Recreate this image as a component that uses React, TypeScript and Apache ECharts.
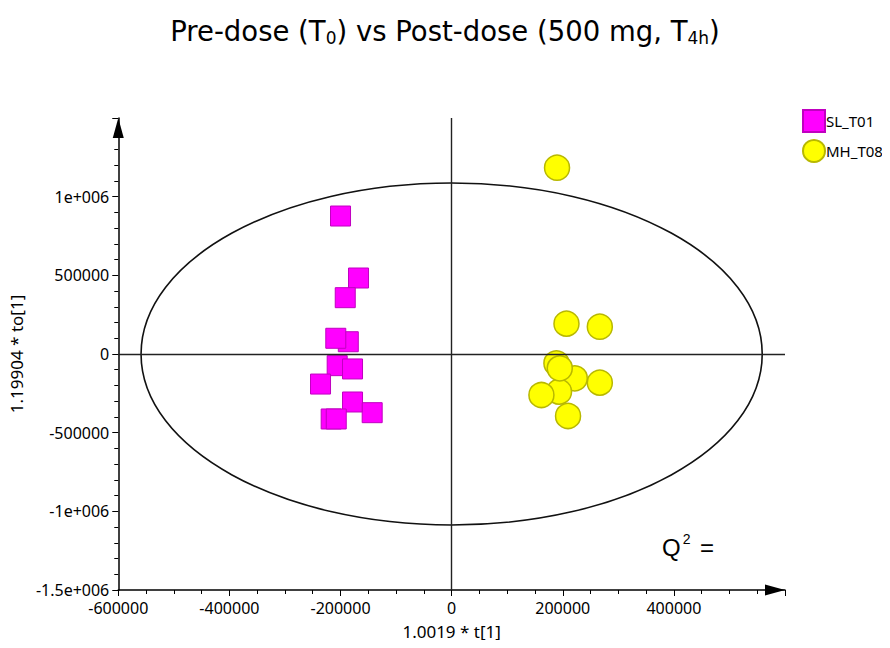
import React, { useEffect, useRef } from "react";
import * as echarts from "echarts";

const titleText = "Pre-dose (T{sub|0}) vs Post-dose (500 mg, T{sub|4h})";
const xAxisName = "1.0019 * t[1]";
const yAxisName = "1.19904 * to[1]";
const seriesNames = ["SL_T01", "MH_T08"];

const slX = [-200000, -167600, -191500, -186000, -208500, -206000, -178400, -236000, -178400, -143000, -216800, -207700];
const slY = [877000, 483000, 358000, 78000, 100000, -74000, -95000, -191000, -305000, -373000, -413000, -413000];

const mhX = [189700, 206700, 266700, 221600, 266700, 193300, 161600, 209500, 188600, 194600];
const mhY = [1184000, 192600, 173500, -154400, -182400, -239600, -260600, -394000, -59100, -90900];

// Hotelling T2 ellipse semi-axes (data units)
const ellipseA = 559000;
const ellipseB = 1087000;

const xMin = -600000;
const xMax = 600000;
const yMin = -1500000;
const yMax = 1500000;

const FONT = "Noto Sans";

function yFmt(v: number): string {
  if (v === 0) return "0";
  if (Math.abs(v) >= 1000000) return `${v / 1000000}e+006`;
  return String(v);
}

function xFmt(v: number): string {
  return String(v);
}

export default function App() {
  const ref = useRef<HTMLDivElement>(null);
  useEffect(() => {
    if (!ref.current) return;
    const chart = echarts.init(ref.current, undefined, { renderer: "svg" });
    const sl = slX.map((x, i) => [x, slY[i]]);
    const mh = mhX.map((x, i) => [x, mhY[i]]);
    chart.setOption({
      animation: false,
      backgroundColor: "#ffffff",
      title: {
        text: titleText,
        left: "center",
        top: 10,
        textStyle: {
          fontFamily: "DejaVu Sans",
          fontSize: 27.5,
          fontWeight: "normal",
          color: "#000",
          rich: {
            sub: {
              fontFamily: "DejaVu Sans",
              fontSize: 17,
              color: "#000",
              padding: [14, 0, 0, 0],
            },
          },
        },
      },
      legend: {
        orient: "vertical",
        left: 802,
        top: 109,
        padding: 0,
        itemGap: 6,
        itemWidth: 22,
        itemHeight: 22,
        textStyle: { fontFamily: FONT, fontSize: 15, color: "#000", padding: [0, 0, 0, -4] },
        data: [
          { name: seriesNames[0], icon: "rect" },
          { name: seriesNames[1], icon: "circle" },
        ],
      },
      grid: { left: 117, right: 105, top: 118, bottom: 58, containLabel: false },
      xAxis: {
        type: "value",
        min: xMin,
        max: xMax,
        interval: 200000,
        name: xAxisName,
        nameLocation: "middle",
        nameGap: 33,
        nameTextStyle: { fontFamily: FONT, fontSize: 17, color: "#000" },
        axisLine: {
          show: true,
          onZero: false,
          symbol: ["none", "triangle"],
          symbolSize: [11, 20],
          symbolOffset: [0, -10],
          lineStyle: { color: "#000", width: 1.5 },
        },
        axisTick: { show: true, length: 6, lineStyle: { color: "#000" } },
        minorTick: { show: true, splitNumber: 4, length: 4, lineStyle: { color: "#000" } },
        axisLabel: {
          fontFamily: FONT,
          fontSize: 16,
          color: "#000",
          margin: 10,
          showMaxLabel: false,
          formatter: xFmt,
        },
        splitLine: { show: false },
      },
      yAxis: {
        type: "value",
        min: yMin,
        max: yMax,
        interval: 500000,
        name: yAxisName,
        nameLocation: "middle",
        nameGap: 91,
        nameTextStyle: { fontFamily: FONT, fontSize: 17, color: "#000" },
        axisLine: {
          show: true,
          onZero: false,
          symbol: ["none", "triangle"],
          symbolSize: [11, 20],
          symbolOffset: [0, -10],
          lineStyle: { color: "#000", width: 1.5 },
        },
        axisTick: { show: true, length: 6, lineStyle: { color: "#000" } },
        minorTick: { show: true, splitNumber: 5, length: 4, lineStyle: { color: "#000" } },
        axisLabel: {
          fontFamily: FONT,
          fontSize: 16,
          color: "#000",
          margin: 9,
          showMaxLabel: false,
          formatter: yFmt,
        },
        splitLine: { show: false },
      },
      series: [
        {
          type: "custom",
          silent: true,
          z: 1,
          data: [[0, 0]],
          renderItem: (params: any, api: any) => {
            const c = api.coord([0, 0]);
            const s = api.size([ellipseA, ellipseB]);
            return {
              type: "ellipse",
              shape: { cx: c[0], cy: c[1], rx: s[0], ry: s[1] },
              style: { fill: "none", stroke: "#111", lineWidth: 1.6 },
            };
          },
          markLine: {
            silent: true,
            symbol: "none",
            label: { show: false },
            lineStyle: { color: "#222", width: 1.4, type: "solid" },
            data: [{ xAxis: 0 }, { yAxis: 0 }],
          },
        },
        {
          name: seriesNames[0],
          type: "scatter",
          z: 3,
          symbol: "rect",
          symbolSize: 20,
          itemStyle: { color: "#ff00ff", borderColor: "#c000c0", borderWidth: 1, opacity: 1 },
          data: sl,
        },
        {
          name: seriesNames[1],
          type: "scatter",
          z: 3,
          symbol: "circle",
          symbolSize: 25,
          itemStyle: { color: "#ffff00", borderColor: "#b8b800", borderWidth: 1.5, opacity: 1 },
          data: mh,
        },
      ],
      graphic: [
        {
          type: "text",
          left: 662,
          top: 532,
          style: {
            text: "Q{sup|2} =",
            fontFamily: "Liberation Sans",
            fontSize: 24,
            fill: "#000",
            rich: {
              sup: {
                fontFamily: "Liberation Sans",
                fontSize: 14,
                padding: [0, 3, 16, 2],
              },
            },
          },
        },
      ],
    });
    return () => chart.dispose();
  }, []);
  return <div ref={ref} style={{ width: 890, height: 648, margin: -8 }} />;
}
